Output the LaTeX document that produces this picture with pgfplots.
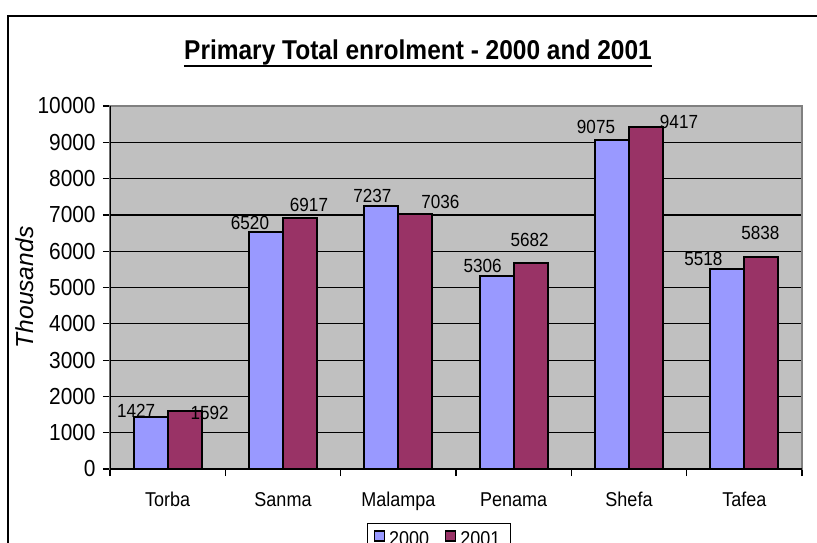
\documentclass[border=0pt]{standalone}
\usepackage{pgfplots}
\pgfplotsset{compat=1.18}
\usepackage{pgfplotstable}
\usepackage{fontspec}
\setmainfont{Liberation Sans}[FakeStretch=0.9]
\newfontfamily\ylabfont{Liberation Sans}
\definecolor{barA}{HTML}{9999FF}
\definecolor{barB}{HTML}{993366}
\definecolor{plotbg}{HTML}{C0C0C0}
\definecolor{plotframe}{HTML}{808080}

\pgfplotstableread{
x y dx dy
0 1427 -14.5 6
1 6520 -16 9
2 7237 -9 10
3 5306 -14 10
4 9075 -16 13
5 5518 -24 10
}\tA
\pgfplotstableread{
x y dx dy
0 1592 25 -2
1 6917 9 13
2 7036 25 12
3 5682 -1 23
4 9417 33 5
5 5838 -1 24
}\tB

\begin{document}
\begin{tikzpicture}[x=1pt,y=1pt]
\begin{axis}[
  scale only axis, width=346pt, height=181.5pt,
  ybar=0pt, bar width=17pt,
  xmin=-0.5, xmax=5.5, ymin=0, ymax=10000,
  scaled y ticks=false,
  /pgf/number format/assume math mode=true,
  /pgf/number format/1000 sep={},
  ytick={0,1000,...,10000},
  xtick={-0.5,0.5,...,5.5},
  xticklabels={},
  extra x ticks={0,1,2,3,4,5},
  extra x tick labels={Torba,Sanma,Malampa,Penama,Shefa,Tafea},
  extra x tick style={major tick length=0pt, grid=none,
     xticklabel style={anchor=base, yshift=-18.5pt, font=\fontsize{10}{12}\selectfont}},
  tick align=outside, major tick length=3.5pt,
  xtick pos=bottom, ytick pos=left,
  tick style={black, line width=0.6pt},
  yticklabel style={anchor=east, xshift=-3.5pt, inner sep=0pt, font=\fontsize{11.6}{13}\selectfont},
  ymajorgrids, grid style={black, line width=0.6pt},
  axis background/.style={fill=plotbg},
  axis line style={plotframe, line width=0.8pt},
  ylabel={\ylabfont\itshape Thousands},
  ylabel style={at={(axis description cs:-0.1228,0.5)}, anchor=center, font=\fontsize{12.3}{14}\selectfont},
  nodes near coords,
  visualization depends on={\thisrow{dx} \as \dx},
  visualization depends on={\thisrow{dy} \as \dy},
  nodes near coords style={anchor=center, inner sep=0pt, xshift=\dx*0.5pt, yshift=\dy*0.5pt, font=\fontsize{9.5}{11}\selectfont, black},
  legend columns=2,
  legend style={at={(axis description cs:0.372,-0.1488)}, anchor=north west, draw=black, line width=0.5pt, fill=white,
     font=\fontsize{10}{12}\selectfont, /tikz/every even column/.append style={column sep=6pt}},
  legend image code/.code={\draw[#1, line width=0.6pt] (0pt,-0.5pt) rectangle (5pt,4.5pt);},
]
\addplot[fill=barA, draw=black, line width=1pt] table[x=x,y=y] {\tA};
\addplot[fill=barB, draw=black, line width=1pt] table[x=x,y=y] {\tB};
\legend{2000,2001}
\draw[black, line width=0.8pt] (rel axis cs:0,1) -- (rel axis cs:0,0) -- (rel axis cs:1,0);
\coordinate (P) at (rel axis cs:0,0);
\end{axis}
\pgfresetboundingbox
\begin{scope}[shift={(P)}, shift={(-55,-36.5)}]
\useasboundingbox (0,0) rectangle (408.5,271);
\draw[line width=1pt] (4,263) rectangle (414,-10);
\node[inner sep=0, anchor=base, font=\fontsize{13.6}{16}\selectfont\bfseries] (T) at (209,241) {Primary Total enrolment - 2000 and 2001};
\draw[line width=1.1pt] ([yshift=-3.2pt]T.base west) -- ([yshift=-3.2pt]T.base east);
\end{scope}
\end{tikzpicture}
\end{document}
